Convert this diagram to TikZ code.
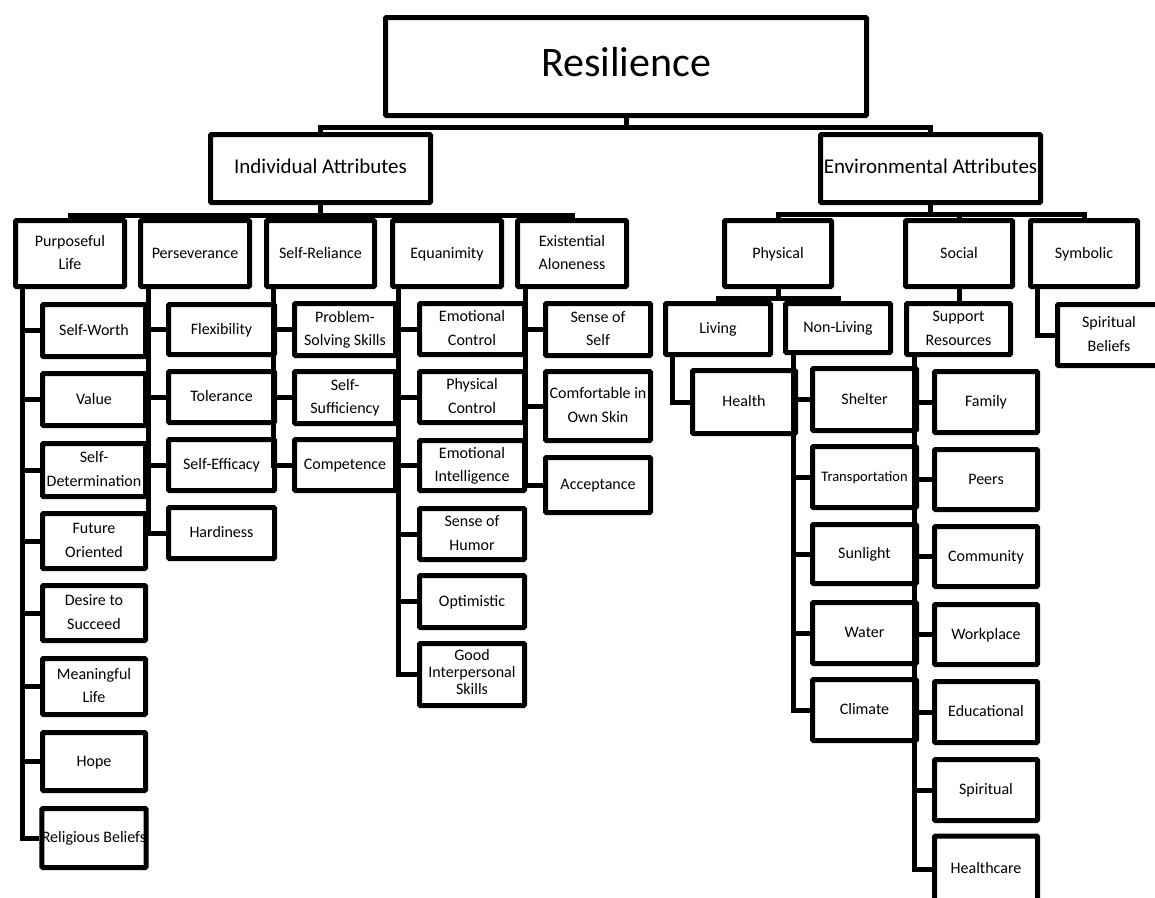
\documentclass[tikz,border=0pt]{standalone}
\usepackage{fontspec}
\setmainfont{Carlito}

\begin{document}
\begin{tikzpicture}[x=1pt, y=-1pt,
  box/.style={draw, line width=5pt, rounded corners=1pt, inner sep=0pt, align=center,
    font=\fontsize{16}{23.5}\selectfont,
    execute at begin node=\strut, execute at end node=\strut},
  conn/.style={line width=5pt},
  rootfont/.style={font=\fontsize{42}{50}\selectfont},
  midfont/.style={font=\fontsize{21}{25}\selectfont}]
  \useasboundingbox (0,0) rectangle (1155,897);
  \clip (0,0) rectangle (1155,897);

  % top two levels
  \node[box, rootfont, minimum width=481, minimum height=98] (res) at (626,66.5) {Resilience};
  \node[box, midfont, minimum width=220, minimum height=68] (ind) at (320.5,168.5) {Individual Attributes};
  \node[box, midfont, minimum width=220, minimum height=68] (env) at (930.5,168.5) {Environmental Attributes};
  \foreach \n in {ind,env}
    \draw[conn] (res.south) -- ++(0,9.5) -| (\n.north);

  % third level
  \foreach \n/\x/\w/\t in {pl/70/109/{\strut Purposeful\\Life\strut}, pe/195/109/Perseverance,
      sr/320.5/108/Self-Reliance, eq/447/109/Equanimity,
      ea/572/109/{\strut Existential\\Aloneness\strut},
      ph/778/107/Physical, so/959/107/Social, sy/1084/107/Symbolic}
    \node[box, minimum width=\w, minimum height=66] (\n) at (\x,253.5) {\t};
  \foreach \n in {pl,pe,sr,eq,ea}
    \draw[conn] (ind.south) -- ++(0,10.5) -| (\n.north);
  \foreach \n in {ph,so,sy}
    \draw[conn] (env.south) -- ++(0,9.5) -| (\n.north);

  % purposeful life
  \foreach \n/\y/\h/\t in {sw/330.5/52/Self-Worth, va/399.5/52/Value,
      sd/470/53/{\strut Self-\\Determination\strut}, fo/541/55/{\strut Future\\Oriented\strut},
      ds/613/55/{\strut Desire to\\Succeed\strut}, ml/686.5/56/{\strut Meaningful\\Life\strut},
      ho/761.5/58/Hope, rb/838/59/Religious Beliefs} {
    \node[box, minimum width=103, minimum height=\h] (\n) at (94,\y) {\t};
    \draw[conn] ([xshift=9pt]pl.south west) |- (\n.west);
  }

  % perseverance
  \foreach \n/\y/\h/\t in {fl/329.5/50/Flexibility, to/397/51/Tolerance,
      se/465/51/Self-Efficacy, ha/533/51/Hardiness} {
    \node[box, minimum width=106, minimum height=\h] (\n) at (221.5,\y) {\t};
    \draw[conn] ([xshift=10pt]pe.south west) |- (\n.west);
  }

  % self-reliance
  \foreach \n/\y/\h/\t in {ps/329.5/52/{\strut Problem-\\Solving Skills\strut},
      ss/397.5/52/{\strut Self-\\Sufficiency\strut}, co/465/51/Competence} {
    \node[box, minimum width=101, minimum height=\h] (\n) at (345,\y) {\t};
    \draw[conn] ([xshift=9.5pt]sr.south west) |- (\n.west);
  }

  % equanimity
  \foreach \n/\y/\h/\t in {ec/329/51/{\strut Emotional\\Control\strut},
      pc/397/51/{\strut Physical\\Control\strut},
      ei/465.5/50/{\strut Emotional\\Intelligence\strut},
      hu/534/51/{\strut Sense of\\Humor\strut}, op/601.5/52/Optimistic} {
    \node[box, minimum width=105, minimum height=\h] (\n) at (472,\y) {\t};
    \draw[conn] ([xshift=8.5pt]eq.south west) |- (\n.west);
  }
  \node[box, font=\fontsize{16}{17}\selectfont, minimum width=105, minimum height=62]
    (gi) at (472,674.5) {\strut Good\\Interpersonal\\Skills\strut};
  \draw[conn] ([xshift=8.5pt]eq.south west) |- (gi.west);

  % existential aloneness
  \foreach \n/\y/\h/\t in {sf/329.5/52/{\strut Sense of\\Self\strut},
      cs/406/69/{\strut Comfortable in\\Own Skin\strut}, ac/485/55/Acceptance} {
    \node[box, minimum width=105, minimum height=\h] (\n) at (598,\y) {\t};
    \draw[conn] ([xshift=10.5pt]ea.south west) |- (\n.west);
  }

  % physical
  \node[box, minimum width=105, minimum height=51] (liv) at (718,329) {Living};
  \node[box, minimum width=105, minimum height=49] (nl) at (838,328) {Non-Living};
  \foreach \n in {liv,nl}
    \draw[conn] (ph.south) -- ++(0,9.5) -| (\n.north);
  \node[box, minimum width=103, minimum height=63] (hea) at (744,402) {Health};
  \draw[conn] ([xshift=9.5pt]liv.south west) |- (hea.west);
  \node[box, font=\fontsize{14.5}{21}\selectfont, minimum width=104, minimum height=61]
    (tr) at (864.5,477) {Transportation};
  \draw[conn] ([xshift=10.5pt]nl.south west) |- (tr.west);
  \foreach \n/\y/\h/\t in {sh/399.5/62/Shelter, su/554/59/Sunlight,
      wa/633/61/Water, cl/710/61/Climate} {
    \node[box, minimum width=104, minimum height=\h] (\n) at (864.5,\y) {\t};
    \draw[conn] ([xshift=10.5pt]nl.south west) |- (\n.west);
  }

  % social
  \node[box, minimum width=104, minimum height=51] (sup) at (958.5,329) {\strut Support\\Resources\strut};
  \draw[conn] (so.south) -- (so.south |- sup.north);
  \foreach \n/\y/\h/\t in {fa/402/61/Family, pr/479.5/60/Peers, cm/556.5/60/Community,
      wp/634.5/60/Workplace, ed/712/61/Educational, sp/790/61/Spiritual,
      hc/869/66/Healthcare} {
    \node[box, minimum width=103, minimum height=\h] (\n) at (986,\y) {\t};
    \draw[conn] ([xshift=10.5pt]sup.south west) |- (\n.west);
  }

  % symbolic
  \node[box, minimum width=103, minimum height=61] (sb) at (1109,335) {\strut Spiritual\\Beliefs\strut};
  \draw[conn] ([xshift=9.5pt]sy.south west) |- (sb.west);
\end{tikzpicture}
\end{document}
